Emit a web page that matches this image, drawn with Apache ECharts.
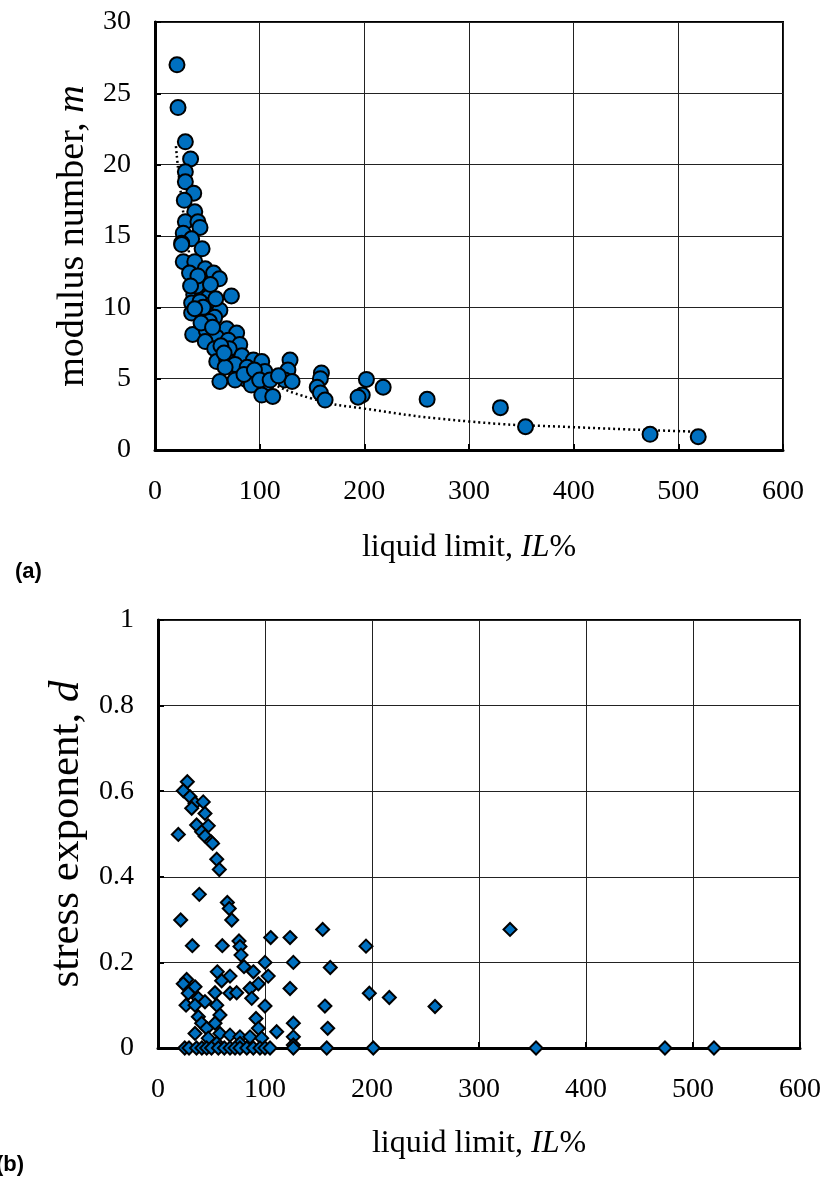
<!DOCTYPE html>
<html>
<head>
<meta charset="utf-8">
<script src="https://cdn.jsdelivr.net/npm/echarts@6/dist/echarts.min.js"></script>
<style>
    html, body { margin: 0; padding: 0; background: #fff; }
    #chart { width: 826px; height: 1178px; }
</style>
</head>
<body>
<div id="chart"></div>
<script>
// (a) modulus number m vs liquid limit
const modX = [21, 22, 29, 34, 29, 29, 37, 28, 38, 29, 41, 43, 27, 35, 25.5, 45, 25.5,
    27, 38, 33, 48, 56, 61.5, 43, 37, 45, 73, 51, 35, 43, 54, 62, 35, 48, 57, 48,
    68.5, 78, 36, 49, 59, 70, 48, 81, 57, 71, 83, 94, 102, 59, 68.5, 76.5, 67, 88,
    105, 129, 127, 124, 97, 87, 76.5, 62, 107, 92, 131, 102, 112.5,
    40, 46, 52, 41, 44, 55, 63, 66, 85, 95, 100, 110, 118, 34, 38, 53, 58,
    159, 158, 155, 158, 162.5, 202, 198, 194, 218, 260, 330, 354, 473, 519]
const modY = [27, 24, 21.6, 20.4, 19.5, 18.8, 18.0, 17.5, 16.7, 16.0, 16.0, 15.6, 15.2, 14.8, 14.5, 14.1, 14.4,
    13.2, 13.2, 12.4, 12.7, 12.4, 12.0, 11.7, 10.9, 11.1, 10.8, 10.7, 10.3, 10.4, 10.2, 9.8, 9.6, 9.7, 9.3, 9.1,
    8.5, 8.2, 8.1, 8.4, 7.9, 7.7, 7.6, 7.4, 7.1, 7.1, 6.6, 6.3, 6.2, 6.2, 6.3, 6.0, 5.8, 5.8,
    5.5, 6.3, 5.6, 4.9, 5.0, 4.95, 4.9, 4.8, 4.7, 4.55, 4.8, 3.85, 3.75,
    11.5, 10.0, 9.0, 12.2, 8.9, 8.6, 7.3, 6.8, 5.3, 5.6, 4.9, 4.9, 5.2, 11.5, 9.9, 11.6, 10.6,
    5.4, 5.0, 4.4, 4.0, 3.5, 4.95, 3.85, 3.7, 4.4, 3.55, 2.97, 1.63, 1.1, 0.93]

// dotted trend line
const trendX = [20, 30, 40, 60, 80, 100, 150, 200, 300, 400, 520]
const trendY = [21.3, 15.1, 11.7, 8.1, 6.2, 5.1, 3.6, 2.9, 2.0, 1.6, 1.28]

// (b) stress exponent d vs liquid limit
const expX = [27.4, 23.7, 29.9, 34.6, 42.3, 31.5, 43.9, 36.1, 47, 40.8, 19, 44, 49.5, 51, 54.9, 57.3,
    38.6, 64.8, 66.6, 21.2, 68.9, 32.1, 60.1, 75.7, 76.6, 77.6, 105.3, 123.4, 153.9, 80.4, 89.1, 100,
    126.5, 161, 103, 55.4, 67.3, 59.5, 26.8, 23.6, 34.6, 93.8, 86, 123.4, 28.3, 53.3, 67.3, 73.5,
    37.7, 43.9, 87.6, 26.2, 34.6, 54.9, 100, 156, 37.7, 57.9, 91.6, 40.8, 53.3, 126.5, 45.5, 93.8,
    110.9, 158.6, 34.6, 57.9, 67.3, 76.6, 86, 126.5, 96.9, 47, 54.9, 76.6, 126.5,
    194.4, 329, 197.5, 216.2, 258.9,
    25, 29, 36, 41, 45.5, 50, 56.4, 62, 67.3, 72, 76.6, 83, 89.1, 95.3, 100, 104.7, 126.5, 157.7,
    201.2, 353.3, 473.8, 519.6]
const expY = [0.622, 0.601, 0.587, 0.572, 0.575, 0.56, 0.548, 0.521, 0.519, 0.505, 0.499, 0.495, 0.482, 0.478, 0.441, 0.417,
    0.359, 0.34, 0.326, 0.299, 0.299, 0.239, 0.239, 0.25, 0.237, 0.217, 0.258, 0.258, 0.277, 0.19, 0.178, 0.2,
    0.2, 0.188, 0.168, 0.178, 0.168, 0.157, 0.16, 0.15, 0.143, 0.15, 0.139, 0.139, 0.128, 0.129, 0.128, 0.129,
    0.116, 0.108, 0.116, 0.1, 0.1, 0.1, 0.098, 0.098, 0.073, 0.077, 0.069, 0.058, 0.058, 0.058, 0.046, 0.046,
    0.038, 0.046, 0.034, 0.034, 0.03, 0.026, 0.026, 0.026, 0.023, 0.023, 0.011, 0.011, 0.007,
    0.238, 0.277, 0.128, 0.118, 0.097,
    0, 0, 0, 0, 0, 0, 0, 0, 0, 0, 0, 0, 0, 0, 0, 0, 0, 0,
    0, 0, 0, 0]

const xTicks = { min: 0, max: 600, interval: 100 }

const serif = '"Liberation Serif", "Times New Roman", serif'
const blue = '#0070C0'

const chart = echarts.init(document.getElementById('chart'))

const xAxisBase = (gridIndex, gap) => ({
    type: 'value',
    gridIndex,
    ...xTicks,
    name: 'liquid limit, {i|IL}%',
    nameLocation: 'middle',
    nameGap: gap,
    nameTextStyle: {
        fontFamily: serif, fontSize: 32, color: '#000',
        rich: { i: { fontFamily: serif, fontSize: 32, fontStyle: 'italic', color: '#000' } }
    },
    axisLine: { onZero: false, lineStyle: { color: '#000', width: 3 } },
    axisTick: { inside: true, length: 6, lineStyle: { color: '#000', width: 2 } },
    axisLabel: { fontFamily: serif, fontSize: 28, color: '#000', margin: 28 },
    splitLine: { show: true, lineStyle: { color: '#222', width: 1 } }
})

const yAxisBase = (gridIndex, max, interval, name, gap, size) => ({
    type: 'value',
    gridIndex,
    min: 0,
    max,
    interval,
    name,
    nameLocation: 'middle',
    nameGap: gap,
    nameTextStyle: {
        fontFamily: serif, fontSize: size, color: '#000',
        rich: { i: { fontFamily: serif, fontSize: size, fontStyle: 'italic', color: '#000' } }
    },
    axisLine: { onZero: false, lineStyle: { color: '#000', width: 3 } },
    axisTick: { inside: true, length: 6, lineStyle: { color: '#000', width: 2 } },
    axisLabel: {
        fontFamily: serif, fontSize: 28, color: '#000', margin: 24,
        formatter: v => String(Math.round(v * 10) / 10)
    },
    splitLine: { show: true, lineStyle: { color: '#222', width: 1 } }
})

const option = {
    animation: false,
    backgroundColor: '#fff',
    grid: [
        { left: 155, top: 22, width: 628, height: 428, show: true, borderColor: '#000', borderWidth: 2, backgroundColor: 'transparent' },
        { left: 158, top: 620, width: 642, height: 428, show: true, borderColor: '#000', borderWidth: 2, backgroundColor: 'transparent' }
    ],
    xAxis: [xAxisBase(0, 82), xAxisBase(1, 80)],
    yAxis: [
        yAxisBase(0, 30, 5, 'modulus number, {i|m}', 58, 38),
        yAxisBase(1, 1, 0.2, 'stress exponent, {i|d}', 64, 43)
    ],
    graphic: [
        { type: 'text', left: 15, top: 561, style: { text: '(a)', font: 'bold 22px "Liberation Sans", Arial, sans-serif', fill: '#000' } },
        { type: 'text', left: -4, top: 1154, style: { text: '(b)', font: 'bold 22px "Liberation Sans", Arial, sans-serif', fill: '#000' } }
    ],
    series: [
        {
            type: 'line',
            xAxisIndex: 0, yAxisIndex: 0,
            data: trendX.map((x, i) => [x, trendY[i]]),
            smooth: true,
            showSymbol: false,
            lineStyle: { color: '#000', width: 2.5, type: [2, 3] },
            z: 3
        },
        {
            type: 'scatter',
            xAxisIndex: 0, yAxisIndex: 0,
            data: modX.map((x, i) => [x, modY[i]]),
            symbol: 'circle',
            symbolSize: 15,
            clip: false,
            itemStyle: { color: blue, borderColor: '#000', borderWidth: 2, opacity: 1 },
            z: 4
        },
        {
            type: 'scatter',
            xAxisIndex: 1, yAxisIndex: 1,
            data: expX.map((x, i) => [x, expY[i]]),
            symbol: 'diamond',
            symbolSize: 13,
            clip: false,
            itemStyle: { color: blue, borderColor: '#000', borderWidth: 2, opacity: 1 },
            z: 4
        }
    ]
}

chart.setOption(option)
</script>
</body>
</html>
